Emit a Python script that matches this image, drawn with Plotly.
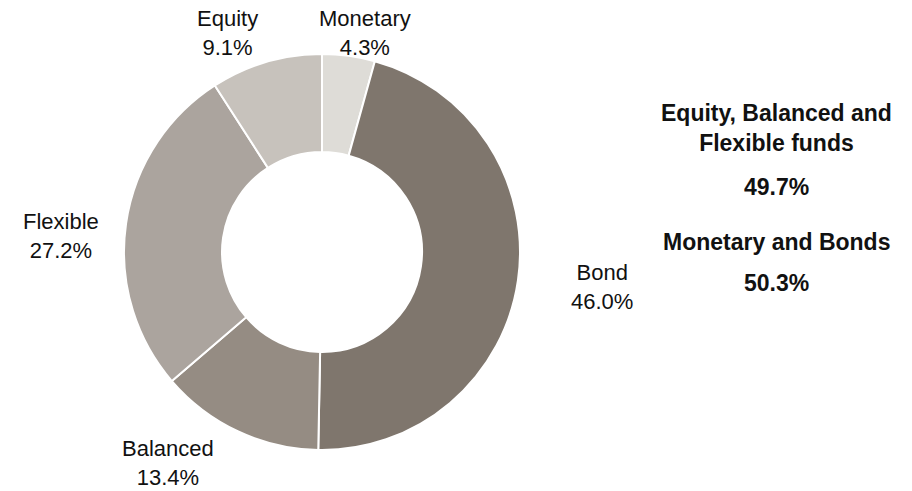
import plotly.graph_objects as go

categories = ["Monetary", "Bond", "Balanced", "Flexible", "Equity"]
values = [4.3, 46.0, 13.4, 27.2, 9.1]
colors = ["#dedcd7", "#7f766d", "#958c83", "#aba49e", "#c7c2bc"]

group_labels = ["Equity, Balanced and<br>Flexible funds", "Monetary and Bonds"]
group_values = ["49.7%", "50.3%"]

W, H = 912, 491
cx, cy, R = 322, 252, 198

fig = go.Figure(go.Pie(
    labels=categories, values=values, sort=False, direction="clockwise",
    rotation=0, hole=0.505, textinfo="none", hoverinfo="label+percent",
    marker=dict(colors=colors, line=dict(color="white", width=2)),
    domain=dict(x=[(cx - R) / W, (cx + R) / W], y=[(H - cy - R) / H, (H - cy + R) / H]),
    showlegend=False,
))

label_pos = {"Monetary": (365, 33), "Bond": (602, 287), "Balanced": (168, 463),
             "Flexible": (61, 236), "Equity": (227, 33)}
font = dict(family="Liberation Sans, Arial, sans-serif", size=22, color="#111111")
for c, v in zip(categories, values):
    px, py = label_pos[c]
    fig.add_annotation(x=px / W, y=1 - py / H, xref="paper", yref="paper",
                       text=f"{c}<br>{v:.1f}%", showarrow=False, font=font,
                       align="center", xanchor="center", yanchor="middle", borderpad=0)

bfont = dict(family="Liberation Sans, Arial, sans-serif", size=23, color="#111111")
for (t, yy), (v, vy) in zip([(group_labels[0], 128), (group_labels[1], 242)],
                            [(group_values[0], 187), (group_values[1], 283)]):
    fig.add_annotation(x=776 / W, y=1 - yy / H, xref="paper", yref="paper",
                       text=f"<b>{t}</b>", showarrow=False, font=bfont,
                       align="center", xanchor="center", yanchor="middle")
    fig.add_annotation(x=776 / W, y=1 - vy / H, xref="paper", yref="paper",
                       text=f"<b>{v}</b>", showarrow=False, font=bfont,
                       align="center", xanchor="center", yanchor="middle")

fig.update_layout(width=W, height=H, margin=dict(l=0, r=0, t=0, b=0),
                  paper_bgcolor="white", plot_bgcolor="white")
fig.write_html("out.html", config={"displayModeBar": False},
               post_script="document.body.style.margin='0';")
